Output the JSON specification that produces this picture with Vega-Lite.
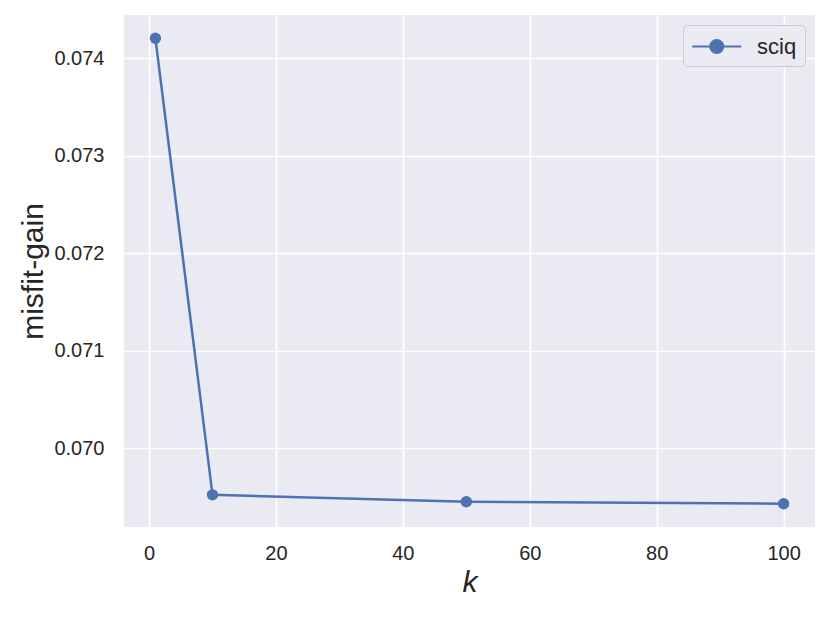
{
  "$schema": "https://vega.github.io/schema/vega-lite/v6.json",
  "width": 691,
  "height": 512,
  "autosize": {"type": "none"},
  "padding": {"left": 124, "top": 15, "right": 15, "bottom": 91},
  "background": "white",
  "config": {
    "font": "Liberation Sans",
    "view": {"fill": "#EAEAF2", "stroke": null},
    "axis": {
      "domain": false,
      "ticks": false,
      "gridColor": "white",
      "gridWidth": 1.6,
      "labelFontSize": 20,
      "labelColor": "#262626",
      "titleColor": "#262626",
      "titleFontWeight": "normal"
    }
  },
  "data": {
    "values": [
      {"k": 1, "gain": 0.074204, "series": "sciq"},
      {"k": 10, "gain": 0.069520, "series": "sciq"},
      {"k": 50, "gain": 0.069449, "series": "sciq"},
      {"k": 100, "gain": 0.069429, "series": "sciq"}
    ]
  },
  "encoding": {
    "x": {
      "field": "k",
      "type": "quantitative",
      "scale": {"domain": [-3.95, 104.95], "nice": false, "zero": false},
      "axis": {"values": [0, 20, 40, 60, 80, 100], "title": "k", "titleFontSize": 30, "titleFontStyle": "italic", "titleFontWeight": "normal", "labelPadding": 16, "titlePadding": 4, "format": "d"}
    },
    "y": {
      "field": "gain",
      "type": "quantitative",
      "scale": {"domain": [0.069190, 0.074443], "nice": false, "zero": false},
      "axis": {"values": [0.070, 0.071, 0.072, 0.073, 0.074], "format": ".3f", "title": "misfit-gain", "titleFontSize": 30, "labelPadding": 20, "titlePadding": 5}
    },
    "color": {
      "field": "series",
      "type": "nominal",
      "scale": {"range": ["#4C72B0"]},
      "legend": {
        "title": null,
        "orient": "top-right",
        "offset": 10,
        "fillColor": "#EAEAF2",
        "strokeColor": "#CCCCCC",
        "cornerRadius": 4,
        "padding": 8,
        "labelFontSize": 22,
        "labelColor": "#262626",
        "labelOffset": 39,
        "symbolType": "M-1,0H3M0.47,0A0.53,0.53 0 1,1 1.53,0A0.53,0.53 0 1,1 0.47,0Z",
        "symbolSize": 600,
        "symbolStrokeWidth": 2.2,
        "symbolFillColor": "#4C72B0",
        "symbolStrokeColor": "#4C72B0",
        "symbolOpacity": 1
      }
    }
  },
  "layer": [
    {"mark": {"type": "line", "strokeWidth": 2.5, "color": "#4C72B0"}},
    {"mark": {"type": "point", "filled": true, "size": 130, "opacity": 1, "color": "#4C72B0"}}
  ]
}
